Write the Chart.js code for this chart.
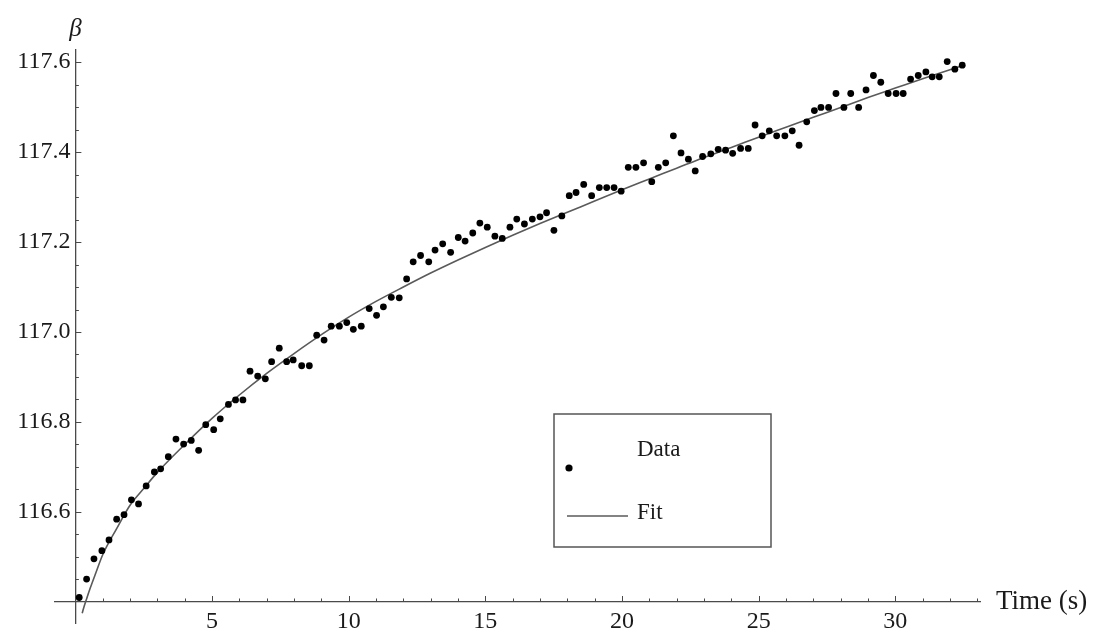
<!DOCTYPE html>
<html>
<head>
<meta charset="utf-8">
<script src="https://cdn.jsdelivr.net/npm/chart.js@4.4.0/dist/chart.umd.min.js"></script>
<style>
html,body{margin:0;padding:0;background:#fff;}
#wrap{width:1098px;height:635px;}
</style>
</head>
<body>
<div id="wrap"><canvas id="c" width="1098" height="635"></canvas></div>
<script>
// ---- data ----
const timeData = [0.14,0.41,0.68,0.97,1.23,1.51,1.78,2.05,2.31,2.59,2.89,3.12,3.40,3.68,3.96,4.24,4.51,4.77,5.06,5.30,5.60,5.86,6.13,6.39,6.67,6.95,7.18,7.46,7.73,7.97,8.28,8.56,8.83,9.10,9.36,9.66,9.93,10.17,10.46,10.75,11.02,11.27,11.56,11.85,12.12,12.36,12.63,12.93,13.16,13.44,13.73,14.01,14.26,14.54,14.80,15.07,15.35,15.62,15.90,16.15,16.43,16.72,17.00,17.24,17.51,17.80,18.07,18.32,18.60,18.89,19.17,19.44,19.71,19.97,20.23,20.51,20.79,21.09,21.33,21.60,21.88,22.16,22.43,22.68,22.95,23.25,23.52,23.79,24.05,24.34,24.62,24.87,25.13,25.39,25.66,25.96,26.23,26.48,26.76,27.04,27.28,27.56,27.83,28.12,28.37,28.66,28.93,29.20,29.47,29.74,30.03,30.29,30.56,30.84,31.12,31.35,31.61,31.90,32.18,32.45];
const betaData = [116.410,116.451,116.496,116.514,116.538,116.584,116.594,116.627,116.618,116.658,116.689,116.696,116.723,116.762,116.751,116.759,116.737,116.794,116.783,116.807,116.839,116.849,116.849,116.913,116.902,116.896,116.934,116.964,116.934,116.938,116.925,116.925,116.993,116.982,117.013,117.013,117.021,117.006,117.013,117.052,117.037,117.056,117.077,117.076,117.118,117.156,117.170,117.156,117.182,117.196,117.177,117.210,117.202,117.220,117.242,117.233,117.213,117.208,117.233,117.251,117.240,117.251,117.256,117.265,117.226,117.258,117.303,117.310,117.328,117.303,117.321,117.321,117.321,117.313,117.366,117.366,117.376,117.334,117.366,117.376,117.436,117.398,117.384,117.358,117.390,117.396,117.406,117.404,117.397,117.408,117.408,117.460,117.436,117.447,117.436,117.436,117.447,117.415,117.467,117.492,117.499,117.499,117.530,117.499,117.530,117.499,117.538,117.570,117.555,117.530,117.530,117.530,117.562,117.570,117.578,117.567,117.567,117.601,117.584,117.593];
const fitTime = [0.25,0.3,0.4,0.55,0.75,1,1.5,2,2.5,3,4,5,6,7,8,9,10,11,12,13,14,15,16,17,18,19,20,21,22,23,24,25,26,27,28,29,30,31,32,32.5];
const fitBeta = [116.375,116.386,116.405,116.432,116.465,116.505,116.562,116.615,116.652,116.688,116.750,116.808,116.860,116.908,116.952,116.994,117.033,117.068,117.100,117.131,117.160,117.188,117.215,117.241,117.266,117.291,117.316,117.340,117.364,117.388,117.410,117.433,117.455,117.477,117.499,117.521,117.542,117.563,117.583,117.593];
const xTickValues = [5,10,15,20,25,30];
const yTickValues = [116.6,116.8,117.0,117.2,117.4,117.6];
const seriesNames = ['Data','Fit'];
const xAxisTitle = 'Time (s)';
const yAxisTitle = 'β';

// ---- styling / layout ----
const axisColor = '#4a4a4a';
const textColor = '#1a1a1a';
const serif = '"Liberation Serif", "DejaVu Serif", serif';
const X_MIN = -0.746, X_MAX = 33.1, Y_MIN = 116.3533, Y_MAX = 117.6267;
const X_CROSS = 0, Y_CROSS = 116.4;
const Y_LABEL_GAP = 5;

const inwardTicks = {
  id: 'inwardTicks',
  afterUpdate(chart) {
    // leave a small gap between the y tick labels and the axis line
    const items = chart.scales.y.getLabelItems(chart.chartArea);
    items.forEach(it => { it.options.translation[0] -= Y_LABEL_GAP; });
  },
  afterDatasetsDraw(chart) {
    const ctx = chart.ctx, xs = chart.scales.x, ys = chart.scales.y;
    const x0 = xs.getPixelForValue(X_CROSS), y0 = ys.getPixelForValue(Y_CROSS);
    ctx.save();
    ctx.strokeStyle = axisColor;
    ctx.lineWidth = 1;
    for (let k = 1; k <= Math.floor(X_MAX); k++) {
      const major = xTickValues.includes(k);
      const px = Math.round(xs.getPixelForValue(k)) + 0.5;
      ctx.beginPath(); ctx.moveTo(px, y0); ctx.lineTo(px, y0 - (major ? 6 : 3.5)); ctx.stroke();
    }
    for (let k = 1; ; k++) {
      const v = Y_CROSS + k * 0.05;
      if (v > Y_MAX) break;
      const major = yTickValues.some(t => Math.abs(t - v) < 1e-6);
      const py = Math.round(ys.getPixelForValue(v)) + 0.5;
      ctx.beginPath(); ctx.moveTo(x0, py); ctx.lineTo(x0 + (major ? 6 : 3.5), py); ctx.stroke();
    }
    // axis titles
    ctx.fillStyle = textColor;
    ctx.font = 'italic 25px ' + serif;
    ctx.textAlign = 'center'; ctx.textBaseline = 'alphabetic';
    ctx.fillText(yAxisTitle, x0, 36);
    ctx.font = '27px ' + serif;
    ctx.textAlign = 'left'; ctx.textBaseline = 'middle';
    ctx.fillText(xAxisTitle, chart.chartArea.right + 16, y0);
    ctx.restore();
  }
};

const boxLegend = {
  id: 'boxLegend',
  afterDraw(chart) {
    const ctx = chart.ctx;
    const ds0 = chart.data.datasets[0], ds1 = chart.data.datasets[1];
    const bx = 554, by = 414, bw = 217, bh = 133;
    ctx.save();
    ctx.strokeStyle = '#555'; ctx.lineWidth = 1.5;
    ctx.strokeRect(bx, by, bw, bh);
    ctx.fillStyle = ds0.pointBackgroundColor;
    ctx.beginPath(); ctx.arc(bx + 15, by + 54, 3.6, 0, Math.PI * 2); ctx.fill();
    ctx.strokeStyle = ds1.borderColor; ctx.lineWidth = ds1.borderWidth;
    ctx.beginPath(); ctx.moveTo(bx + 13, by + 102); ctx.lineTo(bx + 74, by + 102); ctx.stroke();
    ctx.fillStyle = textColor;
    ctx.font = '23px ' + serif;
    ctx.textAlign = 'left'; ctx.textBaseline = 'middle';
    ctx.fillText(ds0.label, bx + 83, by + 36);
    ctx.fillText(ds1.label, bx + 83, by + 99);
    ctx.restore();
  }
};

new Chart(document.getElementById('c'), {
  type: 'scatter',
  data: {
    datasets: [
      {
        label: seriesNames[0],
        data: timeData.map((t, i) => ({x: t, y: betaData[i]})),
        pointRadius: 3.4,
        pointBackgroundColor: '#000',
        pointBorderWidth: 0,
        showLine: false,
        order: 0
      },
      {
        label: seriesNames[1],
        data: fitTime.map((t, i) => ({x: t, y: fitBeta[i]})),
        showLine: true,
        pointRadius: 0,
        borderColor: '#5a5a5a',
        borderWidth: 1.6,
        cubicInterpolationMode: 'monotone',
        order: 1
      }
    ]
  },
  options: {
    responsive: false,
    animation: false,
    devicePixelRatio: 1,
    layout: {padding: {left: 55, right: 118, top: 50, bottom: 12}},
    plugins: {legend: {display: false}, tooltip: {enabled: false}},
    scales: {
      x: {
        type: 'linear', min: X_MIN, max: X_MAX,
        position: {y: Y_CROSS},
        afterBuildTicks: s => { s.ticks = xTickValues.map(v => ({value: v})); },
        afterFit: s => { s.height = 0; s.paddingLeft = 0; s.paddingRight = 0; s.paddingTop = 0; s.paddingBottom = 0; },
        grid: {display: false, drawTicks: false, tickLength: 0},
        border: {display: true, color: axisColor, width: 1.3},
        ticks: {autoSkip: false, maxRotation: 0, padding: 5, color: textColor,
                font: {family: serif, size: 24}, callback: v => String(v)}
      },
      y: {
        type: 'linear', min: Y_MIN, max: Y_MAX,
        position: {x: X_CROSS},
        afterBuildTicks: s => { s.ticks = yTickValues.map(v => ({value: v})); },
        afterFit: s => { s.width = 0; s.paddingLeft = 0; s.paddingRight = 0; s.paddingTop = 0; s.paddingBottom = 0; },
        grid: {display: false, drawTicks: false, tickLength: 0},
        border: {display: true, color: axisColor, width: 1.3},
        ticks: {autoSkip: false, padding: 5, color: textColor,
                font: {family: serif, size: 24}, callback: v => Number(v).toFixed(1)}
      }
    }
  },
  plugins: [inwardTicks, boxLegend]
});
</script>
</body>
</html>
